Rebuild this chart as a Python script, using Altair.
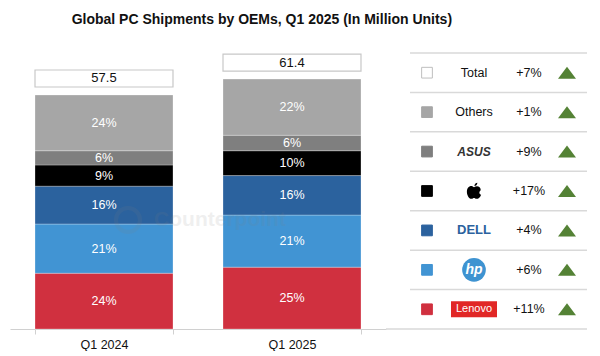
import altair as alt
import pandas as pd

# ---------------- data ----------------
quarters = ["Q1 2024", "Q1 2025"]
totals = [57.5, 61.4]
total_labels = ["57.5", "61.4"]
vendors = ["Lenovo", "HP", "Dell", "Apple", "ASUS", "Others"]  # bottom -> top
units_2024 = [13.7, 12.1, 9.3, 5.2, 3.5, 13.7]
units_2025 = [15.2, 12.8, 9.7, 6.1, 3.8, 13.8]
share_2024 = ["24%", "21%", "16%", "9%", "6%", "24%"]
share_2025 = ["25%", "21%", "16%", "10%", "6%", "22%"]
vendor_colors = ["#D0303F", "#4194D3", "#2B629E", "#000000", "#7F7F7F", "#A6A6A6"]

legend_rows = ["Total", "Others", "ASUS", "Apple", "Dell", "HP", "Lenovo"]
legend_brand = ["Total", "Others", "ASUS", "", "DELL", "hp", "Lenovo"]
legend_change = ["+7%", "+1%", "+9%", "+17%", "+4%", "+6%", "+11%"]
legend_fill = ["#FFFFFF", "#A6A6A6", "#7F7F7F", "#000000", "#2B629E", "#4194D3", "#D0303F"]
legend_stroke = ["#BFBFBF", "#A6A6A6", "#7F7F7F", "#000000", "#2B629E", "#4194D3", "#D0303F"]

FONT = "Liberation Sans"

# ---------------- tables ----------------
rows = []
for q, units, shares in [(quarters[0], units_2024, share_2024), (quarters[1], units_2025, share_2025)]:
    for i, (v, u, s) in enumerate(zip(vendors, units, shares)):
        rows.append({"quarter": q, "vendor": v, "rank": i, "units": u, "label": s})
seg = pd.DataFrame(rows)
tot = pd.DataFrame({"quarter": quarters, "total": totals, "tlabel": total_labels})

leg = pd.DataFrame({
    "row": legend_rows,
    "brand": legend_brand,
    "change": legend_change,
    "ypos": [len(legend_rows) - 0.5 - i for i in range(len(legend_rows))],
})
lines = pd.DataFrame({"b": list(range(len(legend_rows) + 1))})

# ---------------- left panel: stacked bars ----------------
W_L, H = 376, 280
y_scale = alt.Scale(domain=[0, 68.8], nice=False, zero=True)
x_enc = alt.X(
    "quarter:N",
    sort=quarters,
    scale=alt.Scale(paddingInner=0.266, paddingOuter=0.133),
    axis=alt.Axis(
        title=None, labelAngle=0, tickBand="extent", domainColor="#D0D0D0",
        domainWidth=1.2, tickColor="#D0D0D0", tickSize=5, labelFontSize=12.5,
        labelColor="#111111", labelPadding=4, labelFont=FONT,
    ),
)

base = alt.Chart(seg).transform_stack(
    stack="units", as_=["y0", "y1"], groupby=["quarter"],
    sort=[alt.SortField("rank", order="ascending")],
).transform_calculate(mid="(datum.y0 + datum.y1) / 2")

bars = base.mark_bar(stroke="#FFFFFF", strokeWidth=0.6, strokeOpacity=0.45).encode(
    x=x_enc,
    y=alt.Y("y0:Q", scale=y_scale, axis=None),
    y2="y1:Q",
    color=alt.Color("vendor:N", scale=alt.Scale(domain=vendors, range=vendor_colors), legend=None),
)
seg_text = base.mark_text(color="white", fontSize=12.5, font=FONT).encode(
    x=alt.X("quarter:N", sort=quarters),
    y=alt.Y("mid:Q", scale=y_scale),
    text="label:N",
)

box = alt.Chart(tot).mark_bar(fill="white", stroke="#C8C8C8", strokeWidth=1.2,
                               yOffset=-8, y2Offset=-25).encode(
    x=alt.X("quarter:N", sort=quarters),
    y=alt.Y("total:Q", scale=y_scale),
    y2="total:Q",
)
box_text = alt.Chart(tot).mark_text(fontSize=13, color="#111111", font=FONT, dy=-16.5).encode(
    x=alt.X("quarter:N", sort=quarters),
    y=alt.Y("total:Q", scale=y_scale),
    text="tlabel:N",
)

wm_df = pd.DataFrame({"t": ["Counterpoint"]})
wm_text = alt.Chart(wm_df).mark_text(fontSize=21, fontWeight="bold", font=FONT,
                                      color="#808080", opacity=0.12).encode(
    x=alt.value(210), y=alt.value(171), text="t:N")
wm_logo = alt.Chart(wm_df).mark_point(shape="circle", size=576, strokeWidth=4,
                                       color="#808080", opacity=0.12).encode(
    x=alt.value(118), y=alt.value(171))

left = alt.layer(bars, seg_text, box, box_text, wm_logo, wm_text).properties(width=W_L, height=H)

# ---------------- right panel: legend table ----------------
W_R = 177
row_scale = alt.Scale(domain=[0, 7.101], nice=False, zero=False)
# table columns: 0 swatch, 1 brand, 2 change, 3 trend (piecewise positions)
col_scale = alt.Scale(domain=[0, 1, 2, 3], range=[17, 64, 119, 157])
X = alt.X("col:Q", scale=col_scale, axis=None)
Y = alt.Y("ypos:Q", scale=row_scale, axis=None)
legbase = alt.Chart(leg)

rules = alt.Chart(lines).transform_filter("datum.b > 0").mark_rule(color="#D9D9D9", strokeWidth=1.5).encode(
    y=alt.Y("b:Q", scale=row_scale, axis=None), x=alt.value(0), x2=alt.value(W_R))
rule0 = alt.Chart(lines).transform_filter("datum.b == 0").mark_rule(color="#D9D9D9", strokeWidth=1.5).encode(
    y=alt.Y("b:Q", scale=row_scale, axis=None), x=alt.value(-24), x2=alt.value(W_R))

swatch = legbase.transform_calculate(col="0").mark_point(
    shape="square", filled=True, size=115, strokeWidth=1, opacity=1).encode(
    x=X, y=Y,
    fill=alt.Fill("row:N", scale=alt.Scale(domain=legend_rows, range=legend_fill), legend=None),
    stroke=alt.Stroke("row:N", scale=alt.Scale(domain=legend_rows, range=legend_stroke), legend=None),
)

brand = legbase.transform_calculate(col="1")

plain = brand.transform_filter(
    alt.FieldOneOfPredicate(field="row", oneOf=["Total", "Others"])).mark_text(
    fontSize=12.5, color="#111111", font=FONT).encode(x=X, y=Y, text="brand:N")

asus = brand.transform_filter("datum.row == 'ASUS'").mark_text(
    fontSize=12, fontStyle="italic", fontWeight="bold", color="#333333", font=FONT).encode(
    x=X, y=Y, text="brand:N")

dell = brand.transform_filter("datum.row == 'Dell'").mark_text(
    fontSize=13, fontWeight="bold", color="#2B629E", font=FONT).encode(
    x=X, y=Y, text="brand:N")

apple_path = ("M0,-0.5 C0.35,-0.75 0.9,-0.65 0.9,-0.1 C0.65,0.05 0.65,0.45 0.95,0.5 "
              "C0.8,0.95 0.55,1.05 0.35,1.05 C0.2,1.05 0.1,0.95 0,0.95 C-0.1,0.95 -0.2,1.05 -0.35,1.05 "
              "C-0.7,1.05 -0.95,0.5 -0.95,0.1 C-0.95,-0.5 -0.5,-0.7 -0.3,-0.65 C-0.15,-0.6 -0.1,-0.5 0,-0.5 Z "
              "M0.05,-0.65 C0.05,-0.95 0.3,-1.1 0.45,-1.1 C0.45,-0.85 0.25,-0.65 0.05,-0.65 Z")
apple = brand.transform_filter("datum.row == 'Apple'").mark_point(
    shape=apple_path, filled=True, size=225, color="#000000", opacity=1).encode(x=X, y=Y)

hp_circle = brand.transform_filter("datum.row == 'HP'").mark_point(
    shape="circle", filled=True, size=560, color="#3E93D1", opacity=1).encode(x=X, y=Y)
hp_text = brand.transform_filter("datum.row == 'HP'").mark_text(
    fontSize=14, fontStyle="italic", fontWeight="bold", color="white", font=FONT).encode(
    x=X, y=Y, text="brand:N")

len_rect = brand.transform_filter("datum.row == 'Lenovo'").mark_point(
    shape="M-1,-0.35 L1,-0.35 L1,0.35 L-1,0.35 Z", filled=True, size=2116, color="#E12726", opacity=1).encode(
    x=X, y=Y)
len_text = brand.transform_filter("datum.row == 'Lenovo'").mark_text(
    fontSize=11, color="white", font=FONT).encode(x=X, y=Y, text="brand:N")

change = legbase.transform_calculate(col="2").mark_text(
    fontSize=12.5, color="#111111", font=FONT).encode(x=X, y=Y, text="change:N")

tri = legbase.transform_calculate(col="3").mark_point(
    shape="M0,-0.667 L1,0.667 L-1,0.667 Z", filled=True, size=324, color="#548235", opacity=1).encode(
    x=X, y=Y)

right = alt.layer(rules, rule0, swatch, plain, asus, dell, apple, hp_circle, hp_text,
                  len_rect, len_text, change, tri).properties(width=W_R, height=H)

chart = alt.hconcat(
    left, right, spacing=24, bounds="flush",
    title=alt.TitleParams(
        "Global PC Shipments by OEMs, Q1 2025 (In Million Units)",
        fontSize=14, fontWeight="bold", font=FONT, anchor="middle", dx=-37,
        offset=22, color="#111111",
    ),
    padding={"left": 2, "top": 5, "right": 0, "bottom": 0},
).resolve_scale(
    x="independent", y="independent", color="independent", fill="independent", stroke="independent"
).configure(font=FONT, view=alt.ViewConfig(stroke=None))

chart.save("out.html", embed_options={"renderer": "svg", "actions": False})
